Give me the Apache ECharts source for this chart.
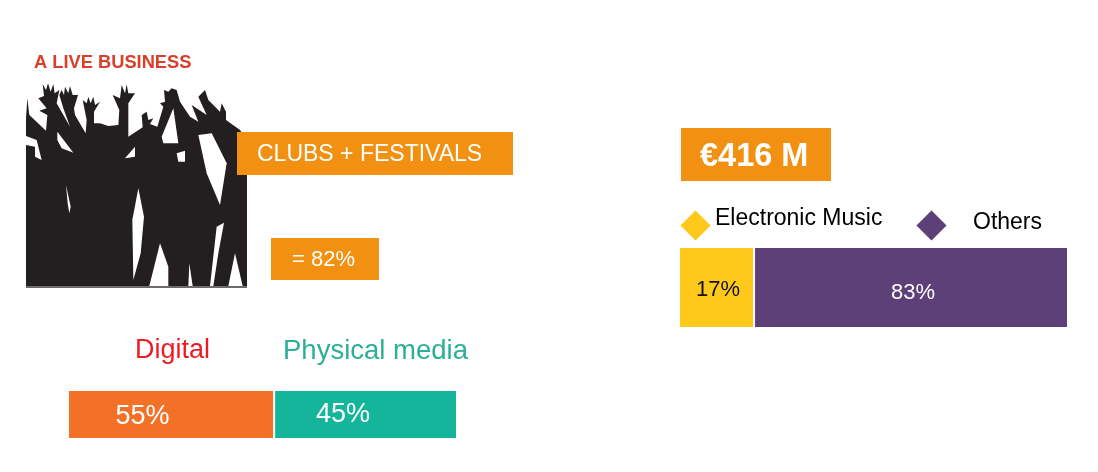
<!DOCTYPE html>
<html>
<head>
<meta charset="utf-8">
<style>html,body{margin:0;background:#fff}#chart{width:1098px;height:472px}</style>
<script src="https://cdn.jsdelivr.net/npm/echarts@6/dist/echarts.min.js"></script>
</head>
<body>
<div id="chart"></div>
<script>
const chart = echarts.init(document.getElementById("chart"));

const FONT = '"Liberation Sans", Arial, sans-serif';

// the reference's bars are not drawn to their printed percentages,
// so the drawn lengths and the printed labels are kept apart
const genreNames = ["Electronic Music", "Others"];
const genreLengths = [19.3, 80.7];
const genreLabels = ["17%", "83%"];

const mediaNames = ["Digital", "Physical media"];
const mediaLengths = [53, 47];
const mediaLabels = ["55%", "45%"];

const crowd = [18,738,18,235,22,175,28,225,78,272,82,225,58,212,80,205,55,175,72,168,68,132,78,150,84,130,92,155,100,132,104,160,118,150,110,190,150,260,130,205,118,165,125,150,132,165,135,140,145,160,150,138,158,165,174,165,162,205,165,225,197,280,200,240,188,180,200,190,205,170,212,190,220,170,225,195,240,185,222,215,222,250,240,250,265,258,295,255,298,210,278,165,300,175,305,135,315,160,320,133,325,160,345,160,325,190,325,290,368,262,365,225,380,215,385,240,400,235,390,252,412,260,430,200,420,190,435,185,432,150,445,155,455,145,470,150,480,185,510,230,535,245,515,195,560,225,535,170,555,150,565,180,600,215,605,190,618,215,618,240,660,270,681,300,681,738];
const crowdGaps = [
	[535,285,575,280,620,370,600,495,560,400],
	[460,205,475,310,430,310,425,290],
	[112,275,160,338,125,325,112,300],
	[18,288,50,300,65,360,45,350,45,320,18,315],
	[345,320,345,350,315,355],
	[470,340,495,332,495,365,475,365],
	[138,435,152,500,148,520,143,490],
	[355,445,372,530,362,640,340,720,337,540],
	[420,610,445,680,445,738,388,738,400,690],
	[508,670,518,738,505,738],
	[590,560,612,548,595,640,580,738,570,738],
	[645,640,668,738,625,738]
];

function tracePoints(flat) {
	const points = [];
	for (let i = 0; i < flat.length; i += 2) {
		points.push([flat[i] / 3 + 20, flat[i + 1] / 3 + 40]);
	}
	return points;
}

function box(x, y, width, height, color) {
	return { type: "rect", shape: { x, y, width, height }, style: { fill: color } };
}

function text(x, y, content, size, color, weight) {
	return {
		type: "text", x, y,
		style: {
			text: content, fill: color, font: (weight || "normal") + " " + size + "px " + FONT,
			textVerticalAlign: "middle"
		}
	};
}

function stackedBar(name, length, label, color, labelColor, size, offset, index) {
	return {
		name,
		type: "bar",
		stack: "share" + index,
		xAxisIndex: index,
		yAxisIndex: index,
		barWidth: "100%",
		data: [length],
		itemStyle: { color, borderColor: "#fff", borderWidth: 1 },
		label: {
			show: true, position: "inside", offset,
			formatter: label, color: labelColor, fontSize: size, fontFamily: FONT
		}
	};
}

function legendKey(name, left) {
	return {
		data: [name], icon: "diamond", selectedMode: false,
		left, top: 208, padding: 0, itemWidth: 33, itemHeight: 33, itemGap: 0,
		formatter: () => ""
	};
}

const hiddenValue = (max) => ({ type: "value", min: 0, max, show: false });
const hiddenCategory = { type: "category", data: ["share"], show: false };

const option = {
	animation: false,
	backgroundColor: "#fff",
	grid: [
		{ left: 679, top: 247, width: 389, height: 81 },
		{ left: 68, top: 390, width: 389, height: 49 }
	],
	xAxis: [
		Object.assign(hiddenValue(100), { gridIndex: 0 }),
		Object.assign(hiddenValue(100), { gridIndex: 1 })
	],
	yAxis: [
		Object.assign({}, hiddenCategory, { gridIndex: 0 }),
		Object.assign({}, hiddenCategory, { gridIndex: 1 })
	],
	legend: [legendKey(genreNames[0], 678), legendKey(genreNames[1], 914)],
	series: [
		stackedBar(genreNames[0], genreLengths[0], genreLabels[0], "#FEC91B", "#111", 22, [1.5, 2], 0),
		stackedBar(genreNames[1], genreLengths[1], genreLabels[1], "#5E4079", "#fff", 22, [2, 5], 0),
		stackedBar(mediaNames[0], mediaLengths[0], mediaLabels[0], "#F37027", "#fff", 27, [-28.5, 2], 1),
		stackedBar(mediaNames[1], mediaLengths[1], mediaLabels[1], "#15B59C", "#fff", 27, [-22.5, 0.5], 1)
	],
	graphic: [
		{ type: "polygon", shape: { points: tracePoints(crowd) }, style: { fill: "#231F20" } },
		...crowdGaps.map((gap) => ({ type: "polygon", shape: { points: tracePoints(gap) }, style: { fill: "#fff" } })),
		box(26, 286, 221, 2, "#6D6A6B"),
		text(34, 63, "A LIVE BUSINESS", 18.3, "#D9402A", "bold"),
		box(237, 132, 276, 43, "#F29111"),
		text(257, 155, "CLUBS + FESTIVALS", 23, "#fff"),
		box(271, 238, 108, 42, "#F29111"),
		text(292, 260, "= 82%", 22, "#fff"),
		box(681, 128, 150, 53, "#F29111"),
		text(700, 157, "€416 M", 32.5, "#fff", "bold"),
		text(715, 219, genreNames[0], 23, "#000"),
		text(973, 223, genreNames[1], 23, "#000"),
		text(135, 351, mediaNames[0], 27, "#ED1C24"),
		text(283, 351, mediaNames[1], 27.5, "#2BAF96")
	]
};

chart.setOption(option);
window.onresize = chart.resize;
</script>
</body>
</html>
